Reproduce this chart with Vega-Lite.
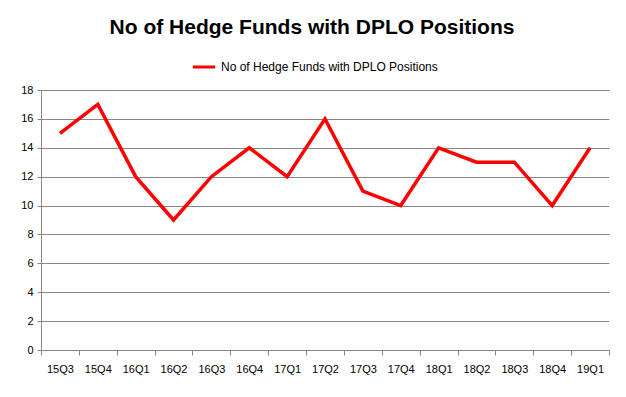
{
  "$schema": "https://vega.github.io/schema/vega-lite/v6.json",
  "width": 568,
  "height": 260,
  "autosize": {"type": "none"},
  "padding": {"left": 41, "top": 90, "right": 17, "bottom": 47},
  "background": "white",
  "title": {
    "text": "No of Hedge Funds with DPLO Positions",
    "font": "Liberation Sans",
    "fontSize": 21,
    "fontWeight": "bold",
    "color": "#000000",
    "anchor": "middle",
    "dx": -13,
    "offset": 16
  },
  "data": {
    "values": [
      {"quarter": "15Q3", "funds": 15, "series": "No of Hedge Funds with DPLO Positions"},
      {"quarter": "15Q4", "funds": 17, "series": "No of Hedge Funds with DPLO Positions"},
      {"quarter": "16Q1", "funds": 12, "series": "No of Hedge Funds with DPLO Positions"},
      {"quarter": "16Q2", "funds": 9, "series": "No of Hedge Funds with DPLO Positions"},
      {"quarter": "16Q3", "funds": 12, "series": "No of Hedge Funds with DPLO Positions"},
      {"quarter": "16Q4", "funds": 14, "series": "No of Hedge Funds with DPLO Positions"},
      {"quarter": "17Q1", "funds": 12, "series": "No of Hedge Funds with DPLO Positions"},
      {"quarter": "17Q2", "funds": 16, "series": "No of Hedge Funds with DPLO Positions"},
      {"quarter": "17Q3", "funds": 11, "series": "No of Hedge Funds with DPLO Positions"},
      {"quarter": "17Q4", "funds": 10, "series": "No of Hedge Funds with DPLO Positions"},
      {"quarter": "18Q1", "funds": 14, "series": "No of Hedge Funds with DPLO Positions"},
      {"quarter": "18Q2", "funds": 13, "series": "No of Hedge Funds with DPLO Positions"},
      {"quarter": "18Q3", "funds": 13, "series": "No of Hedge Funds with DPLO Positions"},
      {"quarter": "18Q4", "funds": 10, "series": "No of Hedge Funds with DPLO Positions"},
      {"quarter": "19Q1", "funds": 14, "series": "No of Hedge Funds with DPLO Positions"}
    ]
  },
  "mark": {"type": "line", "strokeWidth": 3.5, "strokeJoin": "miter"},
  "encoding": {
    "x": {
      "field": "quarter",
      "type": "ordinal",
      "sort": null,
      "scale": {"type": "band", "paddingInner": 0, "paddingOuter": 0},
      "axis": {
        "title": null,
        "labelAngle": 0,
        "labelFont": "Liberation Sans",
        "labelFontSize": 11,
        "labelColor": "#000000",
        "labelPadding": 8,
        "tickBand": "extent",
        "tickSize": 5,
        "tickColor": "#868686",
        "domainColor": "#868686",
        "grid": false
      }
    },
    "y": {
      "field": "funds",
      "type": "quantitative",
      "scale": {"domain": [0, 18]},
      "axis": {
        "title": null,
        "values": [0, 2, 4, 6, 8, 10, 12, 14, 16, 18],
        "labelFont": "Liberation Sans",
        "labelFontSize": 11,
        "labelColor": "#000000",
        "labelPadding": 4,
        "tickSize": 4,
        "tickColor": "#868686",
        "domainColor": "#868686",
        "gridColor": "#868686",
        "gridWidth": 1
      }
    },
    "color": {
      "field": "series",
      "type": "nominal",
      "scale": {"range": ["#ff0000"]},
      "legend": {
        "title": null,
        "orient": "none",
        "legendX": 150,
        "legendY": -36,
        "direction": "horizontal",
        "symbolType": "stroke",
        "symbolStrokeWidth": 3,
        "symbolSize": 500,
        "labelFont": "Liberation Sans",
        "labelFontSize": 12,
        "labelColor": "#000000",
        "labelLimit": 400
      }
    }
  },
  "config": {
    "view": {"stroke": null}
  }
}
